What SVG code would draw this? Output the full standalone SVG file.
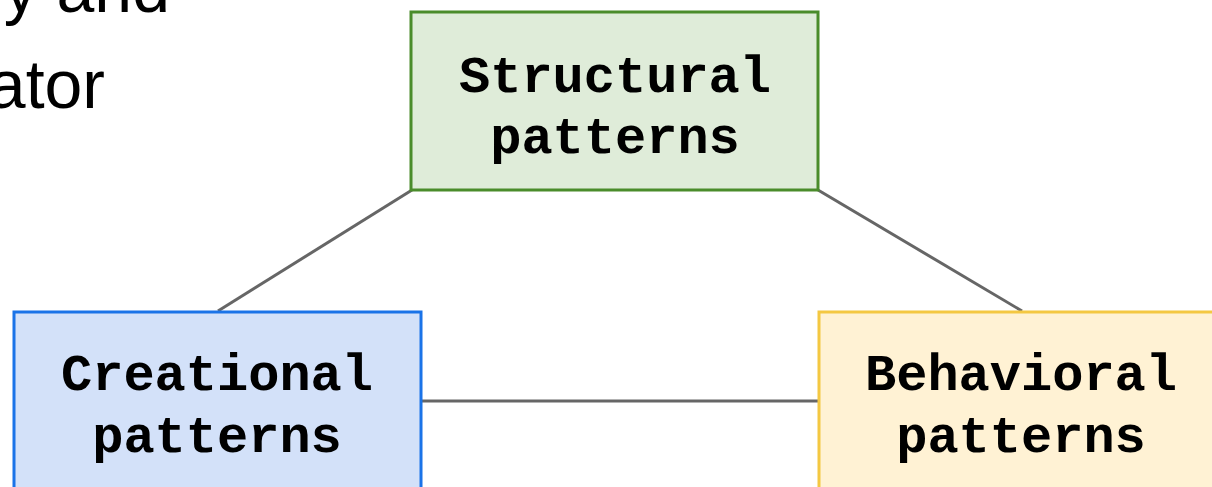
<svg xmlns="http://www.w3.org/2000/svg" width="1212" height="487" viewBox="0 0 1212 487">
<style>
.lbl{font-family:"Liberation Mono","Courier New",monospace;font-weight:bold;font-size:52px;fill:#000;text-anchor:middle}
.bg{font-family:"Liberation Sans",Arial,sans-serif;font-size:68px;fill:#000;text-anchor:end}
.conn{stroke:#666;stroke-width:3;fill:none}
</style>
<rect width="1212" height="487" fill="#fff"/>
<g id="bgtext">
<text class="bg" x="170" y="12">y and</text>
<text class="bg" x="105" y="108">ator</text>
</g>
<g id="connectors">
<line class="conn" x1="412" y1="190" x2="218" y2="311"/>
<line class="conn" x1="818" y1="190" x2="1022" y2="311"/>
<line class="conn" x1="422" y1="401" x2="818" y2="401"/>
</g>
<g id="structural">
<rect x="411" y="12" width="407" height="178" fill="#dfecd9" stroke="#4a8c2b" stroke-width="3"/>
<text class="lbl" x="615" y="92">Structural</text>
<text class="lbl" x="615" y="153">patterns</text>
</g>
<g id="creational">
<rect x="14" y="312" width="407" height="190" fill="#d3e1f9" stroke="#1a73e8" stroke-width="3"/>
<text class="lbl" x="217" y="390">Creational</text>
<text class="lbl" x="217" y="452">patterns</text>
</g>
<g id="behavioral">
<rect x="819" y="312" width="407" height="190" fill="#fff2d4" stroke="#f4c842" stroke-width="3"/>
<text class="lbl" x="1021" y="390">Behavioral</text>
<text class="lbl" x="1021" y="452">patterns</text>
</g>
</svg>
